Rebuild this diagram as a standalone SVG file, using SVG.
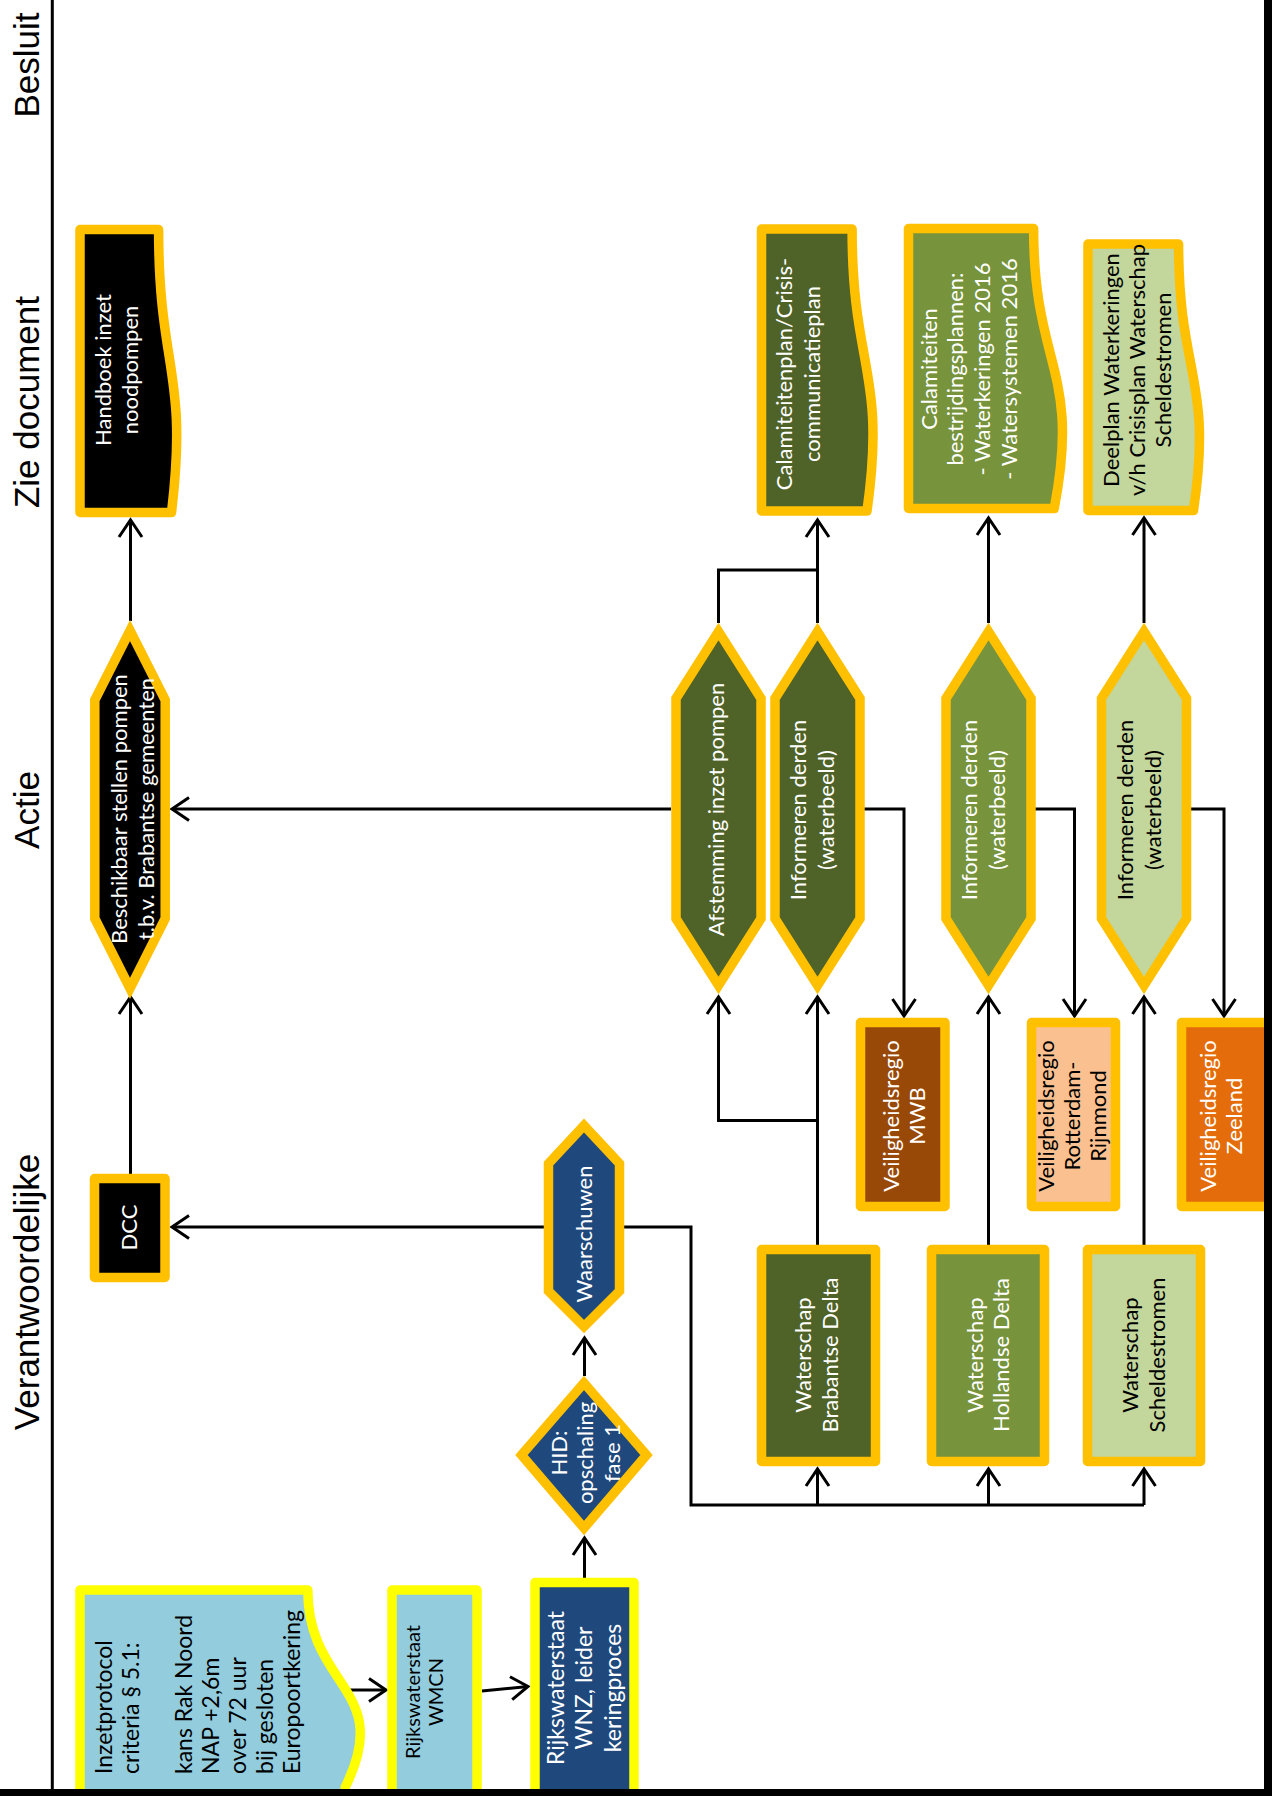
<svg xmlns="http://www.w3.org/2000/svg" width="1272" height="1796" viewBox="0 0 1272 1796">
<style>
.bg{fill:#fff}
.conn{fill:none;stroke:#000;stroke-width:3}
.o{stroke:#FFC000;stroke-width:9.5;stroke-linejoin:round}
.y{stroke:#FFFF00;stroke-width:9.5;stroke-linejoin:round}
.hx{stroke-linejoin:miter;stroke-miterlimit:10}
.t{font-family:Lato,'Open Sans',sans-serif;font-size:22px;text-anchor:middle}
.w{fill:#fff}
.k{fill:#000}
.lane{font-family:'Liberation Sans',Arial,sans-serif;font-size:35px;text-anchor:middle;fill:#000}
</style>
<defs>
<marker id="arr" markerUnits="userSpaceOnUse" markerWidth="26" markerHeight="26" viewBox="-22 -13 26 26" refX="0" refY="0" orient="auto" overflow="visible">
<path d="M-17,-11.5 L0,0 L-17,11.5" fill="none" stroke="#000" stroke-width="3"/>
</marker>
</defs>
<rect class="bg" x="0" y="0" width="1272" height="1796"/>

<g id="lanes">
<line x1="52.3" y1="0" x2="52.3" y2="1790" stroke="#000" stroke-width="3"/>
<g transform="translate(38.5,65) rotate(-90)"><text class="lane">Besluit</text></g>
<g transform="translate(38.5,402) rotate(-90)"><text class="lane">Zie document</text></g>
<g transform="translate(38.5,810) rotate(-90)"><text class="lane">Actie</text></g>
<g transform="translate(38.5,1292) rotate(-90)"><text class="lane">Verantwoordelijke</text></g>
</g>

<g id="connectors">
<path class="conn" d="M130.5,621 L130.5,520" marker-end="url(#arr)"/>
<path class="conn" d="M130.5,1174 L130.5,997" marker-end="url(#arr)"/>
<path class="conn" d="M671,809 L172,809" marker-end="url(#arr)"/>
<path class="conn" d="M545,1227 L172,1227" marker-end="url(#arr)"/>
<path class="conn" d="M623,1227 L691,1227 L691,1505 L1144,1505"/>
<path class="conn" d="M817.5,1505 L817.5,1469" marker-end="url(#arr)"/>
<path class="conn" d="M988.5,1505 L988.5,1469" marker-end="url(#arr)"/>
<path class="conn" d="M1144,1505 L1144,1469" marker-end="url(#arr)"/>
<path class="conn" d="M584.5,1376 L584.5,1338" marker-end="url(#arr)"/>
<path class="conn" d="M584.5,1578 L584.5,1538" marker-end="url(#arr)"/>
<path class="conn" d="M350,1690 L386,1690" marker-end="url(#arr)"/>
<path class="conn" d="M482,1691 L528,1686.5" marker-end="url(#arr)"/>
<path class="conn" d="M817.5,1245 L817.5,997" marker-end="url(#arr)"/>
<path class="conn" d="M817.5,1120.5 L718.5,1120.5 L718.5,997" marker-end="url(#arr)"/>
<path class="conn" d="M988.5,1245 L988.5,997" marker-end="url(#arr)"/>
<path class="conn" d="M1144,1245 L1144,997" marker-end="url(#arr)"/>
<path class="conn" d="M864,809 L904,809 L904,1016" marker-end="url(#arr)"/>
<path class="conn" d="M1035,809 L1074.5,809 L1074.5,1016" marker-end="url(#arr)"/>
<path class="conn" d="M1191,809 L1224,809 L1224,1016" marker-end="url(#arr)"/>
<path class="conn" d="M718.5,623 L718.5,570 L817.5,570"/>
<path class="conn" d="M817.5,623 L817.5,520" marker-end="url(#arr)"/>
<path class="conn" d="M988.5,623 L988.5,518" marker-end="url(#arr)"/>
<path class="conn" d="M1144,623 L1144,518" marker-end="url(#arr)"/>
</g>

<g id="handboek">
<path class="o" fill="#000" d="M80,229.5 L158.6,229.5 C158.6,371 188.5,371 171.5,512.5 L80,512.5 Z"/>
<g transform="translate(117.5,370) rotate(-90)"><text class="t w"><tspan x="0" y="-6.9">Handboek inzet</tspan><tspan x="0" y="20.1">noodpompen</tspan></text></g>
</g>

<g id="calamiteitenplan">
<path class="o" fill="#4F6228" d="M761.5,229 L852.1,229 C852.1,370 886.6,370 867,511 L761.5,511 Z"/>
<g transform="translate(799,374) rotate(-90)"><text class="t w"><tspan x="0" y="-7">Calamiteitenplan/Crisis-</tspan><tspan x="0" y="21">communicatieplan</tspan></text></g>
</g>

<g id="bestrijdingsplannen">
<path class="o" fill="#77933C" d="M908.5,228.5 L1033.6,228.5 C1033.6,368.5 1081.2,368.5 1054.2,508.5 L908.5,508.5 Z"/>
<g transform="translate(970,369) rotate(-90)"><text class="t w"><tspan x="0" y="-33.4">Calamiteiten</tspan><tspan x="0" y="-6.7">bestrijdingsplannen:</tspan><tspan x="0" y="20">- Waterkeringen 2016</tspan><tspan x="0" y="46.7">- Watersystemen 2016</tspan></text></g>
</g>

<g id="deelplan">
<path class="o" fill="#C3D69B" d="M1088,244 L1178.6,244 C1178.6,377.3 1213.1,377.3 1193.5,510.5 L1088,510.5 Z"/>
<g transform="translate(1138.5,370) rotate(-90)"><text class="t k"><tspan x="0" y="-19.4">Deelplan Waterkeringen</tspan><tspan x="0" y="6.6">v/h Crisisplan Waterschap</tspan><tspan x="0" y="32.6">Scheldestromen</tspan></text></g>
</g>

<g id="beschikbaar">
<path class="o hx" fill="#000" d="M130,630.5 L165.2,700 L165.2,918.5 L130,988.5 L94.8,918.5 L94.8,700 Z"/>
<g transform="translate(133.5,809) rotate(-90)"><text class="t w"><tspan x="0" y="-6.8">Beschikbaar stellen pompen</tspan><tspan x="0" y="20.8">t.b.v. Brabantse gemeenten</tspan></text></g>
</g>

<g id="afstemming">
<path class="o hx" fill="#4F6228" d="M718.5,631.5 L761,698.5 L761,918.5 L718.5,985.5 L676,918.5 L676,698.5 Z"/>
<g transform="translate(717,809.5) rotate(-90)"><text class="t w"><tspan x="0" y="6.6">Afstemming inzet pompen</tspan></text></g>
</g>

<g id="informeren1">
<path class="o hx" fill="#4F6228" d="M817.5,631.5 L860,698.5 L860,918.5 L817.5,985.5 L775,918.5 L775,698.5 Z"/>
<g transform="translate(813,810) rotate(-90)"><text class="t w"><tspan x="0" y="-7.4">Informeren derden</tspan><tspan x="0" y="20.6">(waterbeeld)</tspan></text></g>
</g>

<g id="informeren2">
<path class="o hx" fill="#77933C" d="M988.5,631.5 L1031,698.5 L1031,918.5 L988.5,985.5 L946,918.5 L946,698.5 Z"/>
<g transform="translate(984.6,810) rotate(-90)"><text class="t w"><tspan x="0" y="-7.4">Informeren derden</tspan><tspan x="0" y="20.6">(waterbeeld)</tspan></text></g>
</g>

<g id="informeren3">
<path class="o hx" fill="#C3D69B" d="M1144,631.5 L1186.5,698.5 L1186.5,918.5 L1144,985.5 L1101.5,918.5 L1101.5,698.5 Z"/>
<g transform="translate(1140,810) rotate(-90)"><text class="t k"><tspan x="0" y="-7.4">Informeren derden</tspan><tspan x="0" y="20.6">(waterbeeld)</tspan></text></g>
</g>

<g id="vr-mwb">
<rect class="o" fill="#984807" x="860.5" y="1022.5" width="84.5" height="184"/>
<g transform="translate(905,1116) rotate(-90)"><text class="t w"><tspan x="0" y="-6.4">Veiligheidsregio</tspan><tspan x="0" y="19.6">MWB</tspan></text></g>
</g>

<g id="vr-rotterdam">
<rect class="o" fill="#FAC090" x="1031.5" y="1022.5" width="84" height="184"/>
<g transform="translate(1073.3,1116) rotate(-90)"><text class="t k"><tspan x="0" y="-19.7">Veiligheidsregio</tspan><tspan x="0" y="6.6">Rotterdam-</tspan><tspan x="0" y="32.9">Rijnmond</tspan></text></g>
</g>

<g id="vr-zeeland">
<rect class="o" fill="#E46C0A" x="1181.5" y="1022.5" width="95" height="184"/>
<g transform="translate(1222,1116) rotate(-90)"><text class="t w"><tspan x="0" y="-6.4">Veiligheidsregio</tspan><tspan x="0" y="19.6">Zeeland</tspan></text></g>
</g>

<g id="dcc">
<rect class="o" fill="#000" x="94.5" y="1178.5" width="70.5" height="99"/>
<g transform="translate(130,1227.5) rotate(-90)"><text class="t w"><tspan x="0" y="6.6">DCC</tspan></text></g>
</g>

<g id="waarschuwen">
<path class="o hx" fill="#1F497D" d="M584,1125.5 L619.5,1163.5 L619.5,1291 L584,1326.5 L548.5,1291 L548.5,1163.5 Z"/>
<g transform="translate(585.5,1234) rotate(-90)"><text class="t w"><tspan x="0" y="6.6">Waarschuwen</tspan></text></g>
</g>

<g id="hid">
<path class="o hx" fill="#1F497D" d="M584,1383 L646.5,1455 L584,1528 L521.5,1455 Z"/>
<g transform="translate(586.7,1453) rotate(-90)"><text class="t w"><tspan x="0" y="-20.1">HID:</tspan><tspan x="0" y="6.6">opschaling</tspan><tspan x="0" y="33.3">fase 1</tspan></text></g>
</g>

<g id="ws-brabant">
<rect class="o" fill="#4F6228" x="761.5" y="1249.5" width="114" height="212"/>
<g transform="translate(818,1355) rotate(-90)"><text class="t w"><tspan x="0" y="-6.6">Waterschap</tspan><tspan x="0" y="19.8">Brabantse Delta</tspan></text></g>
</g>

<g id="ws-holland">
<rect class="o" fill="#77933C" x="931.5" y="1249.5" width="113" height="212"/>
<g transform="translate(989.6,1355) rotate(-90)"><text class="t w"><tspan x="0" y="-6.6">Waterschap</tspan><tspan x="0" y="19.8">Hollandse Delta</tspan></text></g>
</g>

<g id="ws-schelde">
<rect class="o" fill="#C3D69B" x="1087.5" y="1249.5" width="113" height="212"/>
<g transform="translate(1144.8,1355) rotate(-90)"><text class="t k"><tspan x="0" y="-6.6">Waterschap</tspan><tspan x="0" y="19.8">Scheldestromen</tspan></text></g>
</g>

<g id="inzetprotocol">
<path class="y" fill="#93CDDD" d="M80,1590 L307.8,1590 C307.8,1688.5 394.4,1688.5 345.3,1787 L345.3,1810 L80,1810 Z"/>
<g transform="translate(105,1774) rotate(-90)"><text class="t k" style="text-anchor:start;font-size:23px"><tspan x="0" y="7">Inzetprotocol</tspan><tspan x="0" y="33.8">criteria § 5.1:</tspan><tspan x="0" y="87.4">kans Rak Noord</tspan><tspan x="0" y="114.2">NAP +2,6m</tspan><tspan x="0" y="141">over 72 uur</tspan><tspan x="0" y="167.8">bij gesloten</tspan><tspan x="0" y="194.6">Europoortkering</tspan></text></g>
</g>

<g id="rws-wmcn">
<rect class="y" fill="#93CDDD" x="392" y="1590" width="85" height="230"/>
<g transform="translate(425.5,1692) rotate(-90)"><text class="t k" style="font-size:20px"><tspan x="0" y="-5.5">Rijkswaterstaat</tspan><tspan x="0" y="17.5">WMCN</tspan></text></g>
</g>

<g id="rws-wnz">
<rect class="y" fill="#1F497D" x="535" y="1582.5" width="99" height="240"/>
<g transform="translate(585.5,1688) rotate(-90)"><text class="t w" style="font-size:23px"><tspan x="0" y="-21.6">Rijkswaterstaat</tspan><tspan x="0" y="6.9">WNZ, leider</tspan><tspan x="0" y="35.4">keringproces</tspan></text></g>
</g>

<g id="frame">
<rect x="1264" y="0" width="8" height="1796" fill="#000"/>
<rect x="0" y="1789" width="1272" height="7" fill="#000"/>
</g>
</svg>
